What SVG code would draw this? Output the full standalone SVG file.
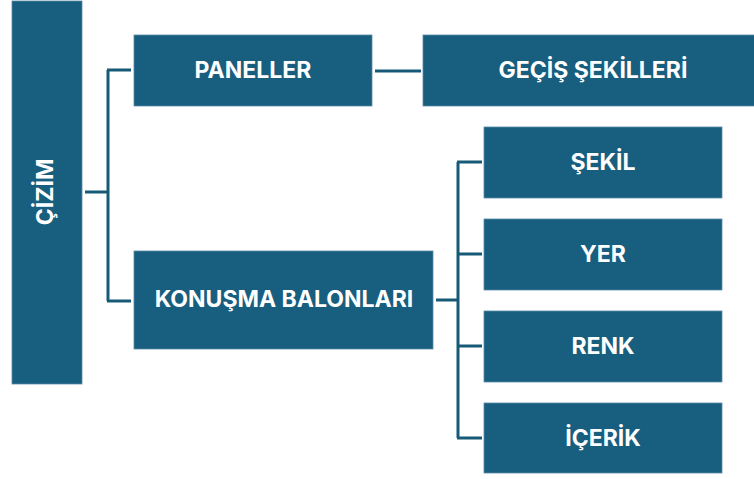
<svg xmlns="http://www.w3.org/2000/svg" width="754" height="479" viewBox="0 0 754 479">
<style>
.box{fill:#175E7F;stroke:#5B8BA6;stroke-width:0.8}
.lbl{fill:#FFFFFF;font-family:Inter,"Liberation Sans","DejaVu Sans",sans-serif;font-weight:700;font-size:23px;text-anchor:middle;dominant-baseline:central}
.conn{fill:none;stroke:#175A78;stroke-width:3}
</style>
<rect width="754" height="479" fill="#FFFFFF"/>
<g id="connectors">
<path class="conn" d="M85,192 H108 M108,70 V301 M107,70 H131 M107,301 H131"/>
<path class="conn" d="M375,71 H421"/>
<path class="conn" d="M436,300 H458 M458,162 V438 M457,162 H482 M457,254 H482 M457,346 H482 M457,438 H482"/>
</g>
<g id="n-cizim">
<rect class="box" x="12" y="1" width="70" height="383"/>
<text class="lbl" transform="translate(45,192) rotate(-90)" font-size="28.5">ÇİZİM</text>
</g>
<g id="n-paneller">
<rect class="box" x="134" y="35" width="238" height="71"/>
<text class="lbl" x="253" y="70">PANELLER</text>
</g>
<g id="n-gecis">
<rect class="box" x="423" y="35" width="340" height="71"/>
<text class="lbl" x="593" y="70">GEÇİŞ ŞEKİLLERİ</text>
</g>
<g id="n-konusma">
<rect class="box" x="134" y="251" width="299" height="98"/>
<text class="lbl" x="284" y="299">KONUŞMA BALONLARI</text>
</g>
<g id="n-sekil">
<rect class="box" x="484" y="127" width="238" height="71"/>
<text class="lbl" x="603" y="162">ŞEKİL</text>
</g>
<g id="n-yer">
<rect class="box" x="484" y="219" width="238" height="71"/>
<text class="lbl" x="603" y="254">YER</text>
</g>
<g id="n-renk">
<rect class="box" x="484" y="311" width="238" height="71"/>
<text class="lbl" x="603" y="346">RENK</text>
</g>
<g id="n-icerik">
<rect class="box" x="484" y="403" width="238" height="70"/>
<text class="lbl" x="603" y="438">İÇERİK</text>
</g>
</svg>
